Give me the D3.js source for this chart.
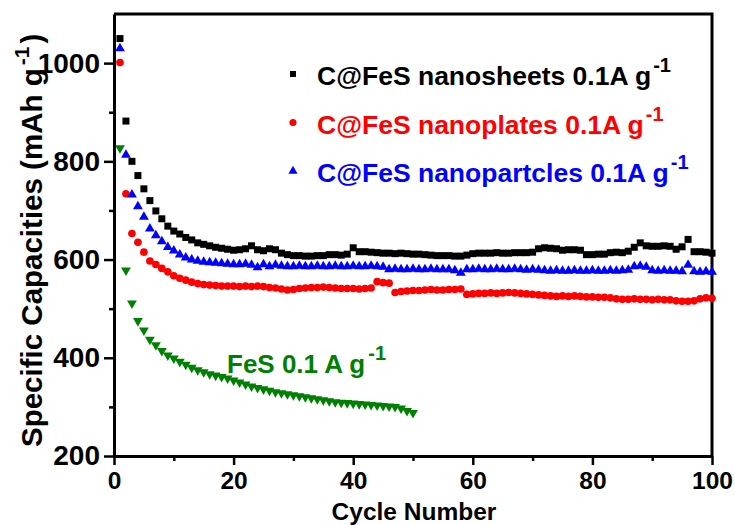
<!DOCTYPE html>
<html>
<head>
<meta charset="utf-8">
<script src="https://cdn.jsdelivr.net/npm/d3@7"></script>
<style>
  html, body { margin: 0; padding: 0; background: #fff; }
  svg { display: block; font-family: "Liberation Sans", Arial, Helvetica, sans-serif; font-weight: bold; }
</style>
</head>
<body>
<svg id="chart" width="735" height="525"></svg>
<script>
// ---- Data ----
const nanosheets = [1050,882,800,771,744,720,699,683,668,658,652,645,640,634,631,628,625,623,621,619,
  620,622,628,620,618,622,620,613,610,608,608,607,607,608,608,610,610,609,611,624,
  616,616,615,614,613,613,612,613,612,611,611,610,609,608,608,608,607,607,609,612,
  613,613,613,614,613,613,614,614,614,615,622,624,623,622,619,620,620,619,610,610,
  611,611,614,615,614,617,625,634,628,627,627,628,627,621,626,641,616,616,615,613];
const nanoplates = [1001,734,653,635,615,597,590,582,575,567,562,558,554,551,549,548,547,546,546,546,
  545,546,545,546,545,543,542,540,538,539,541,542,543,543,544,543,542,541,541,541,
  540,541,542,555,553,552,533,535,536,537,537,538,539,538,538,539,539,540,529,530,
  531,531,532,531,532,533,532,531,530,529,528,527,526,525,526,525,526,525,524,524,
  523,523,522,520,519,519,520,519,519,518,519,518,518,516,515,515,516,520,522,521];
const nanoparticles = [1030,813,732,708,687,663,649,637,625,618,610,604,600,597,595,594,593,592,591,590,
  590,591,589,584,590,586,589,587,586,586,587,586,586,587,586,586,587,586,586,587,
  586,586,587,586,585,580,581,580,580,581,580,580,581,580,580,580,578,573,580,580,
  581,580,580,581,580,580,581,580,579,580,579,578,577,578,577,577,578,577,577,578,
  577,577,578,577,578,579,586,587,585,578,577,578,577,577,576,589,576,575,576,575];
const fes = [827,578,511,475,456,437,426,414,405,399,392,386,380,375,371,367,364,361,358,354,
  350,346,342,339,336,333,330,328,326,324,322,320,318,316,314,312,310,309,308,307,
  306,305,304,303,302,301,300,297,292,288];

const seriesNames = ["C@FeS nanosheets 0.1A g", "C@FeS nanoplates 0.1A g", "C@FeS nanopartcles 0.1A g"];
const fesLabel = "FeS 0.1 A g";
const superscript = "-1";
const xTicks = [0, 20, 40, 60, 80, 100];
const xMinorTicks = [10, 30, 50, 70, 90];
const yTicks = [200, 400, 600, 800, 1000];
const yMinorTicks = [300, 500, 700, 900];
const xTitle = "Cycle Number";
const yTitle = "Specific Capacities (mAh g";

// ---- Layout ----
const pL = 114, pR = 712, pT = 14, pB = 456;
const x = d3.scaleLinear().domain([0, 100]).range([pL, pR]);
const y = d3.scaleLinear().domain([200, 1100]).range([pB, pT]);

const svg = d3.select("#chart");

// frame (top / right)
svg.append("path")
  .attr("d", `M${pL},${pT}H${pR}V${pB}`)
  .attr("fill", "none").attr("stroke", "#000").attr("stroke-width", 3);

// x axis
const xAxis = svg.append("g").attr("transform", `translate(0,${pB})`)
  .call(d3.axisBottom(x).tickValues(xTicks).tickSize(9).tickSizeOuter(0).tickPadding(7).tickFormat(d3.format("d")));
svg.append("g").attr("transform", `translate(0,${pB})`)
  .call(d3.axisBottom(x).tickValues(xMinorTicks).tickSize(5).tickSizeOuter(0).tickFormat(""))
  .select(".domain").remove();
xAxis.selectAll("text").attr("font-size", 24.5).attr("fill", "#000");

// y axis
const yAxis = svg.append("g").attr("transform", `translate(${pL},0)`)
  .call(d3.axisLeft(y).tickValues(yTicks).tickSize(10).tickSizeOuter(0).tickPadding(4).tickFormat(d3.format("d")));
svg.append("g").attr("transform", `translate(${pL},0)`)
  .call(d3.axisLeft(y).tickValues(yMinorTicks).tickSize(5).tickSizeOuter(0).tickFormat(""))
  .select(".domain").remove();
yAxis.selectAll("text").attr("font-size", 28).attr("fill", "#000");

svg.selectAll(".domain").attr("stroke", "#000").attr("stroke-width", 3);
svg.selectAll(".tick line").attr("stroke", "#000").attr("stroke-width", 2.5);
svg.selectAll("g").attr("font-family", null).attr("font-size", null);

// axis titles
svg.append("text").attr("x", 414).attr("y", 519.5).attr("text-anchor", "middle")
  .attr("font-size", 24.5).text(xTitle);
const yt = svg.append("text").attr("transform", "translate(42,447) rotate(-90)").attr("font-size", 29.5);
yt.append("tspan").text(yTitle);
yt.append("tspan").attr("font-size", 21).attr("dx", 3).attr("dy", -13).text(superscript);
yt.append("tspan").attr("dx", 3).attr("dy", 13).text(")");

// markers
const sq = d3.symbol().type(d3.symbolSquare).size(49);
const ci = d3.symbol().type(d3.symbolCircle).size(46);
const tri = d3.symbol().type(d3.symbolTriangle).size(42);

function drawSeries(data, sym, color, rot) {
  svg.append("g").selectAll("path").data(data).join("path")
    .attr("d", sym)
    .attr("fill", color)
    .attr("transform", (d, i) => `translate(${x(i + 1)},${y(d)})${rot ? " rotate(180)" : ""}`);
}
drawSeries(nanosheets, sq, "#000000", false);
drawSeries(nanoplates, ci, "#ff0000", false);
drawSeries(nanoparticles, tri, "#0000ff", false);
drawSeries(fes, tri, "#008000", true);

// legend
const legendColors = ["#000000", "#ff0000", "#0000ff"];
const legendSyms = [d3.symbol().type(d3.symbolSquare).size(36), d3.symbol().type(d3.symbolCircle).size(40), d3.symbol().type(d3.symbolTriangle).size(36)];
const legendY = [85, 133.5, 182];
seriesNames.forEach((name, i) => {
  svg.append("path").attr("d", legendSyms[i]).attr("fill", legendColors[i])
    .attr("transform", `translate(293,${legendY[i] - 11})`);
  const t = svg.append("text").attr("x", 317).attr("y", legendY[i]).attr("font-size", 26.5).attr("fill", legendColors[i]);
  t.append("tspan").text(name);
  t.append("tspan").attr("font-size", 20).attr("dx", 2).attr("dy", -13).text(superscript);
});

// FeS label
const ft = svg.append("text").attr("x", 227).attr("y", 373).attr("font-size", 26).attr("fill", "#008000");
ft.append("tspan").text(fesLabel);
ft.append("tspan").attr("font-size", 20).attr("dx", 3).attr("dy", -13).text(superscript);
</script>
</body>
</html>
